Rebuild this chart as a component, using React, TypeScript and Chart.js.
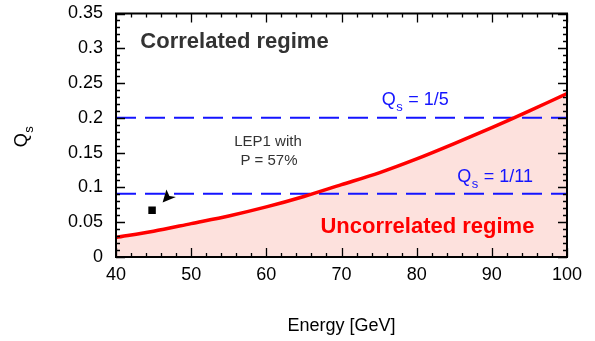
import React, { useEffect, useRef } from 'react';
import { Chart, registerables } from 'chart.js';

Chart.register(...registerables);

// ---- data ----
const energy = [40, 45, 50, 55, 60, 65, 70, 75, 80, 85, 90, 95, 100];
const qsCurve = [0.028, 0.037, 0.048, 0.059, 0.072, 0.087, 0.104, 0.121, 0.141, 0.163, 0.186, 0.21, 0.235];
const qsLevels = [1 / 5, 1 / 11];
const lep1Energy = [44.8];
const lep1Qs = [0.0673];
const arrowTipEnergy = 46.2;
const arrowTipQs = 0.0782;
const xTicks = [40, 50, 60, 70, 80, 90, 100];
const xTickLabels = ['40', '50', '60', '70', '80', '90', '100'];
const yTicks = [0, 0.05, 0.1, 0.15, 0.2, 0.25, 0.3, 0.35];
const yTickLabels = ['0', '0.05', '0.1', '0.15', '0.2', '0.25', '0.3', '0.35'];

const FONT = '"Liberation Sans", Arial, Helvetica, sans-serif';
const BLUE = 'rgb(20,20,255)';

const overlay = {
  id: 'overlay',
  afterDatasetsDraw(chart: any) {
    const { ctx, chartArea: a, scales } = chart;
    const xs = scales.x;
    const ys = scales.y;
    const px = (v: number) => xs.getPixelForValue(v);
    const py = (v: number) => ys.getPixelForValue(v);
    ctx.save();

    // arrowhead pointing at the LEP1 point
    const tx = px(arrowTipEnergy);
    const ty = py(arrowTipQs);
    ctx.fillStyle = '#000';
    ctx.beginPath();
    ctx.moveTo(tx, ty);
    ctx.lineTo(tx + 3.8, ty - 13.2);
    ctx.lineTo(tx + 6.8, ty - 6.6);
    ctx.lineTo(tx + 13.3, ty - 5.7);
    ctx.closePath();
    ctx.fill();

    ctx.textBaseline = 'alphabetic';

    // Correlated regime
    ctx.fillStyle = '#333';
    ctx.font = `bold 22px ${FONT}`;
    ctx.textAlign = 'left';
    ctx.fillText('Correlated regime', px(43.24), py(0.3006));

    // Uncorrelated regime
    ctx.fillStyle = '#ff0000';
    ctx.fillText('Uncorrelated regime', px(67.2), py(0.0341));

    // LEP1 text
    ctx.fillStyle = '#333';
    ctx.font = `15px ${FONT}`;
    ctx.textAlign = 'center';
    ctx.fillText('LEP1 with', px(60.22), py(0.1589));
    ctx.fillText('P = 57%', px(60.35), py(0.1325));

    // Qs labels
    const drawQs = (x: number, y: number, rest: string, color: string, size: number) => {
      ctx.fillStyle = color;
      ctx.textAlign = 'left';
      ctx.font = `${size}px ${FONT}`;
      ctx.fillText('Q', x, y);
      const wq = ctx.measureText('Q').width;
      ctx.font = `${Math.round(size * 0.74)}px ${FONT}`;
      ctx.fillText('s', x + wq + 0.5, y + 6);
      const ws = ctx.measureText('s').width;
      ctx.font = `${size}px ${FONT}`;
      ctx.fillText(rest, x + wq + ws + 1, y);
    };
    drawQs(px(75.35), py(0.2179), ' = 1/5', BLUE, 18);
    drawQs(px(85.4), py(0.1085), ' = 1/11', BLUE, 18);

    // frame
    ctx.strokeStyle = '#000';
    ctx.lineWidth = 2;
    ctx.strokeRect(a.left, a.top, a.right - a.left, a.bottom - a.top);

    // ticks (inward, all four sides)
    ctx.lineWidth = 1.3;
    ctx.beginPath();
    for (let i = 0; i <= 30; i++) {
      const v = 40 + i * 2;
      const x = Math.round(px(v)) + 0.5;
      const L = i % 5 === 0 ? 9 : 4;
      ctx.moveTo(x, a.bottom);
      ctx.lineTo(x, a.bottom - L);
      ctx.moveTo(x, a.top);
      ctx.lineTo(x, a.top + L);
    }
    for (let i = 0; i <= 35; i++) {
      const y = Math.round(py(i / 100)) + 0.5;
      const L = i % 5 === 0 ? 9 : 4;
      ctx.moveTo(a.left, y);
      ctx.lineTo(a.left + L, y);
      ctx.moveTo(a.right, y);
      ctx.lineTo(a.right - L, y);
    }
    ctx.stroke();

    // axis titles
    ctx.fillStyle = '#000';
    ctx.font = `18px ${FONT}`;
    ctx.textAlign = 'center';
    ctx.fillText('Energy [GeV]', (a.left + a.right) / 2, a.bottom + 73.5);

    ctx.save();
    ctx.translate(a.left - 89.5, (a.top + a.bottom) / 2 + 12);
    ctx.rotate(-Math.PI / 2);
    ctx.textAlign = 'left';
    ctx.font = `18px ${FONT}`;
    ctx.fillText('Q', 0, 0);
    const wq = ctx.measureText('Q').width;
    ctx.font = `13px ${FONT}`;
    ctx.fillText('s', wq + 0.5, 6);
    ctx.restore();

    ctx.restore();
  },
};

export default function App() {
  const ref = useRef<HTMLCanvasElement | null>(null);

  useEffect(() => {
    document.body.style.margin = '0';
    const canvas = ref.current;
    if (!canvas) return;
    const tickFont = { family: FONT, size: 18 };
    const chart = new Chart(canvas, {
      type: 'line',
      data: {
        datasets: [
          {
            label: 'Qs curve',
            data: energy.map((e, i) => ({ x: e, y: qsCurve[i] })),
            borderColor: '#ff0000',
            borderWidth: 3.5,
            backgroundColor: 'rgb(253,225,221)',
            fill: 'origin',
            pointRadius: 0,
            tension: 0.3,
          },
          ...qsLevels.map((q) => ({
            label: 'Qs level',
            data: [
              { x: xTicks[0], y: q },
              { x: xTicks[xTicks.length - 1], y: q },
            ],
            borderColor: BLUE,
            borderWidth: 2,
            borderDash: [20, 9],
            pointRadius: 0,
            fill: false,
          })),
          {
            type: 'scatter',
            label: 'LEP1',
            data: lep1Energy.map((e, i) => ({ x: e, y: lep1Qs[i] })),
            pointStyle: 'rect',
            pointRadius: 5.3,
            backgroundColor: '#000',
            borderWidth: 0,
          },
        ] as any,
      },
      options: {
        responsive: false,
        animation: false,
        devicePixelRatio: 1,
        layout: { padding: { top: 13.5, right: 28, left: 0, bottom: 0 } },
        plugins: {
          legend: { display: false },
          tooltip: { enabled: false },
          filler: { drawTime: 'beforeDatasetsDraw' },
        } as any,
        scales: {
          x: {
            type: 'linear',
            min: 40,
            max: 100,
            grid: { display: false, drawTicks: false },
            border: { display: false },
            ticks: {
              font: tickFont,
              color: '#000',
              padding: 7,
              autoSkip: false,
              maxRotation: 0,
              callback: (_v: any, i: number) => xTickLabels[i],
            },
            afterBuildTicks: (s: any) => {
              s.ticks = xTicks.map((v) => ({ value: v }));
            },
            afterFit: (s: any) => {
              s.height = 84;
              s.paddingLeft = 0;
              s.paddingRight = 0;
            },
          },
          y: {
            type: 'linear',
            min: 0,
            max: 0.35,
            grid: { display: false, drawTicks: false },
            border: { display: false },
            ticks: {
              font: tickFont,
              color: '#000',
              padding: 13,
              autoSkip: false,
              callback: (_v: any, i: number) => yTickLabels[i],
            },
            afterBuildTicks: (s: any) => {
              s.ticks = yTicks.map((v) => ({ value: v }));
            },
            afterFit: (s: any) => {
              s.width = 116;
              s.paddingTop = 0;
              s.paddingBottom = 0;
            },
          },
        } as any,
      },
      plugins: [overlay],
    });
    return () => chart.destroy();
  }, []);

  return (
    <canvas
      ref={ref}
      width={595}
      height={341}
      style={{ display: 'block', width: 595, height: 341 }}
    />
  );
}
